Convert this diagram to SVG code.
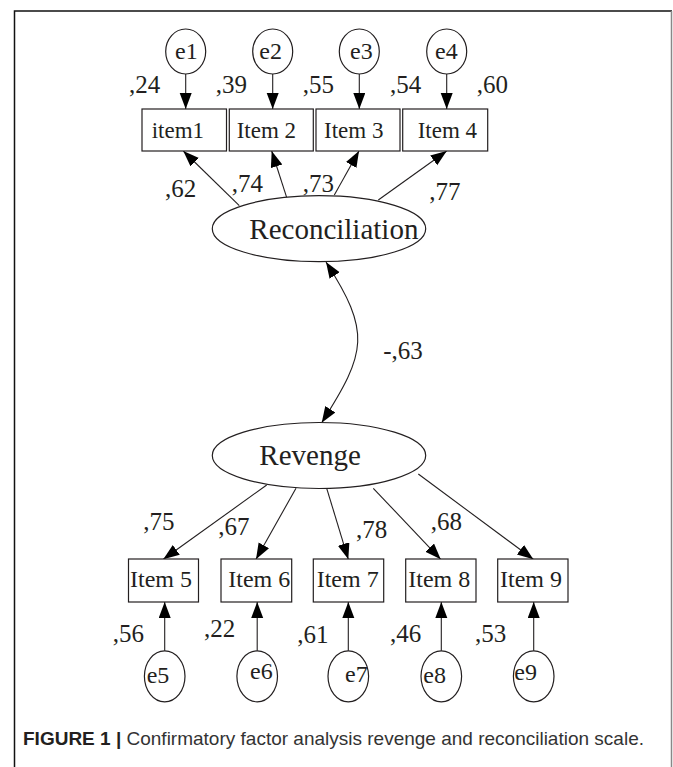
<svg xmlns="http://www.w3.org/2000/svg" width="673" height="767" viewBox="0 0 673 767">
  <style>
    .t { font-family: "Liberation Serif", "Times New Roman", serif; fill: #231f20; }
    .num { font-size: 25px; }
    .item { font-size: 23px; }
    .item-b { font-size: 24px; }
    .err { font-size: 24px; }
    .lat { font-size: 29px; }
    .shape { fill: #fff; stroke: #231f20; stroke-width: 1.2; }
    .edge { fill: none; stroke: #231f20; stroke-width: 1.1; }
    .cap { font-family: "Liberation Sans", Arial, sans-serif; font-size: 19px; fill: #333; }
  </style>
  <defs>
    <marker id="arrow" markerUnits="userSpaceOnUse" markerWidth="17" markerHeight="13" refX="16" refY="6" orient="auto-start-reverse">
      <path d="M0,0 L16,6 L0,12 z" fill="#000"/>
    </marker>
  </defs>

  <!-- figure frame -->
  <g id="frame" fill="none">
    <path d="M14.5,767 V11 H672" stroke="#111" stroke-width="1.5"/>
    <path d="M671.5,11 V767" stroke="#888" stroke-width="1.5"/>
  </g>

  <!-- connectors -->
  <g id="connectors" class="edge">
    <!-- error terms to top indicators -->
    <line x1="185.7" y1="74" x2="185.7" y2="109" marker-end="url(#arrow)"/>
    <line x1="272.7" y1="74" x2="272.7" y2="109" marker-end="url(#arrow)"/>
    <line x1="359.3" y1="74" x2="359.3" y2="109" marker-end="url(#arrow)"/>
    <line x1="446.7" y1="74" x2="446.7" y2="109" marker-end="url(#arrow)"/>
    <!-- Reconciliation loadings -->
    <line x1="239.3" y1="205.7" x2="183.3" y2="151" marker-end="url(#arrow)"/>
    <line x1="287.3" y1="199.3" x2="271.7" y2="151" marker-end="url(#arrow)"/>
    <line x1="334.3" y1="195" x2="359" y2="151" marker-end="url(#arrow)"/>
    <line x1="378.3" y1="200" x2="446.7" y2="151" marker-end="url(#arrow)"/>
    <!-- factor covariance -->
    <path d="M326,262 C371,332 367,352 321.7,422.7" marker-start="url(#arrow)" marker-end="url(#arrow)"/>
    <!-- Revenge loadings -->
    <line x1="266.7" y1="485" x2="163.3" y2="559.3" marker-end="url(#arrow)"/>
    <line x1="296" y1="488.3" x2="256" y2="559.3" marker-end="url(#arrow)"/>
    <line x1="326.7" y1="488.3" x2="348.3" y2="559.3" marker-end="url(#arrow)"/>
    <line x1="373.3" y1="488.3" x2="440.7" y2="559.3" marker-end="url(#arrow)"/>
    <line x1="418.3" y1="474" x2="533.3" y2="559.3" marker-end="url(#arrow)"/>
    <!-- error terms to bottom indicators -->
    <line x1="164.7" y1="651" x2="164.7" y2="602" marker-end="url(#arrow)"/>
    <line x1="257.2" y1="651" x2="257.2" y2="602" marker-end="url(#arrow)"/>
    <line x1="348.3" y1="651" x2="348.3" y2="602" marker-end="url(#arrow)"/>
    <line x1="441.3" y1="651" x2="441.3" y2="602" marker-end="url(#arrow)"/>
    <line x1="533.7" y1="651" x2="533.7" y2="602" marker-end="url(#arrow)"/>
  </g>

  <!-- connector labels -->
  <g id="edge-labels" class="t num">
    <text x="129" y="93">,24</text>
    <text x="215.7" y="93">,39</text>
    <text x="302.7" y="93">,55</text>
    <text x="390" y="93">,54</text>
    <text x="476.7" y="93">,60</text>
    <text x="165" y="196.7">,62</text>
    <text x="231.7" y="191.7">,74</text>
    <text x="302.7" y="191.7">,73</text>
    <text x="429.3" y="200">,77</text>
    <text x="383.3" y="359.3">-,63</text>
    <text x="143.3" y="530">,75</text>
    <text x="218.3" y="535">,67</text>
    <text x="356" y="538.3">,78</text>
    <text x="430.7" y="530">,68</text>
    <text x="112.7" y="641.7">,56</text>
    <text x="204" y="636.7">,22</text>
    <text x="297.3" y="643.3">,61</text>
    <text x="390" y="641.7">,46</text>
    <text x="475" y="641.7">,53</text>
  </g>

  <!-- top error terms -->
  <g id="e1"><ellipse class="shape" cx="185.7" cy="51.5" rx="20" ry="22.5"/><text class="t err" x="175" y="59">e1</text></g>
  <g id="e2"><ellipse class="shape" cx="272.7" cy="51.5" rx="20" ry="22.5"/><text class="t err" x="259.3" y="59">e2</text></g>
  <g id="e3"><ellipse class="shape" cx="359.3" cy="51.5" rx="20" ry="22.5"/><text class="t err" x="350" y="59">e3</text></g>
  <g id="e4"><ellipse class="shape" cx="446.7" cy="51.5" rx="20" ry="22.5"/><text class="t err" x="435" y="59">e4</text></g>

  <!-- Reconciliation indicators -->
  <g id="item1"><rect class="shape" x="142" y="109" width="84.5" height="42"/><text class="t item" x="151.7" y="137.5">item1</text></g>
  <g id="item2"><rect class="shape" x="229.3" y="109" width="84" height="42"/><text class="t item" x="236.7" y="137.5">Item 2</text></g>
  <g id="item3"><rect class="shape" x="316" y="109" width="84" height="42"/><text class="t item" x="324" y="137.5">Item 3</text></g>
  <g id="item4"><rect class="shape" x="402.7" y="109" width="85" height="42"/><text class="t item" x="417.7" y="137.5">Item 4</text></g>

  <!-- latent factors -->
  <g id="reconciliation"><ellipse class="shape" cx="319" cy="228.7" rx="106.7" ry="33"/><text class="t lat" x="249.3" y="239.3">Reconciliation</text></g>
  <g id="revenge"><ellipse class="shape" cx="319" cy="455.5" rx="106.7" ry="33"/><text class="t lat" x="259.3" y="465">Revenge</text></g>

  <!-- Revenge indicators -->
  <g id="item5"><rect class="shape" x="128.5" y="559" width="70" height="43"/><text class="t item-b" x="130" y="587.3">Item 5</text></g>
  <g id="item6"><rect class="shape" x="221" y="559" width="70.7" height="43"/><text class="t item-b" x="228.3" y="587.3">Item 6</text></g>
  <g id="item7"><rect class="shape" x="313.3" y="559" width="70.4" height="43"/><text class="t item-b" x="316.7" y="587.3">Item 7</text></g>
  <g id="item8"><rect class="shape" x="405.7" y="559" width="70.3" height="43"/><text class="t item-b" x="408.3" y="587.3">Item 8</text></g>
  <g id="item9"><rect class="shape" x="497.7" y="559" width="70.3" height="43"/><text class="t item-b" x="500" y="587.3">Item 9</text></g>

  <!-- bottom error terms -->
  <g id="e5"><ellipse class="shape" cx="164.7" cy="676.3" rx="20.3" ry="25.5"/><text class="t err" x="146.7" y="683.3">e5</text></g>
  <g id="e6"><ellipse class="shape" cx="257.2" cy="676.3" rx="20.3" ry="25.5"/><text class="t err" x="250" y="679.3">e6</text></g>
  <g id="e7"><ellipse class="shape" cx="348.3" cy="676.3" rx="20.3" ry="25.5"/><text class="t err" x="345" y="681.7">e7</text></g>
  <g id="e8"><ellipse class="shape" cx="441.3" cy="676.3" rx="20.3" ry="25.5"/><text class="t err" x="423.3" y="683.3">e8</text></g>
  <g id="e9"><ellipse class="shape" cx="533.7" cy="676.3" rx="20.3" ry="25.5"/><text class="t err" x="514.3" y="680">e9</text></g>

  <!-- caption -->
  <text class="cap" x="23" y="745"><tspan font-weight="bold" fill="#231f20">FIGURE 1 |</tspan> Confirmatory factor analysis revenge and reconciliation scale.</text>
</svg>
